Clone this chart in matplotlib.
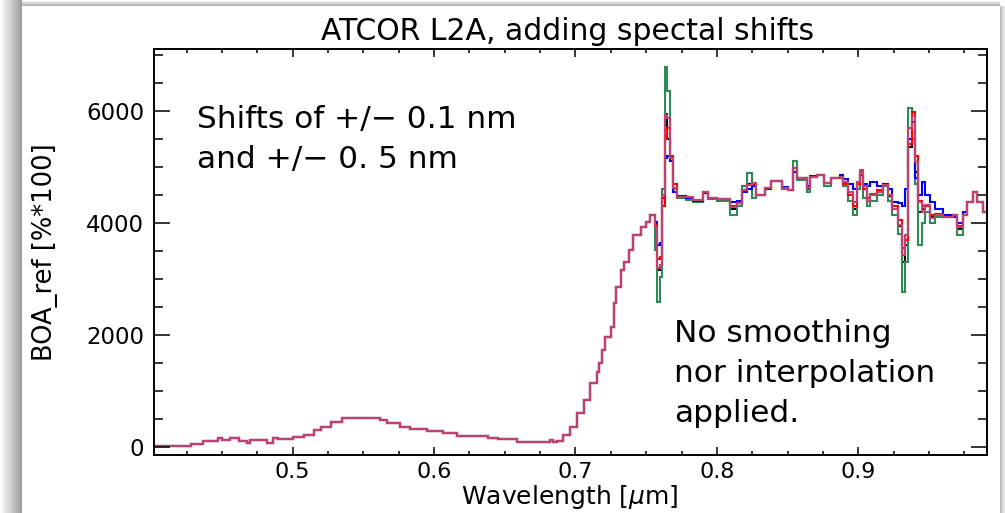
import numpy as np
import matplotlib
matplotlib.use("Agg")
import matplotlib.pyplot as plt
from matplotlib.ticker import MultipleLocator

W, H = 1005, 513

# band edges (nm) below the O2 band: all shifted spectra coincide here
WL_LOW = [400, 428, 437, 447, 450, 456, 462, 468, 470, 482,
          486, 490, 500, 508, 515, 520, 527, 535, 562, 567,
          576, 583, 595, 606, 616, 638, 645, 659, 682, 684,
          687, 691, 696, 701, 706, 710, 715, 717, 719, 721,
          725, 727, 729, 732, 734, 738, 741, 746, 750, 753]
REFL_LOW = [32, 57, 116, 175, 134, 164, 116, 75, 134, 75,
            164, 146, 182, 223, 312, 370, 460, 531, 490, 431,
            370, 330, 300, 264, 205, 164, 146, 103, 134, 93,
            120, 223, 370, 609, 846, 1143, 1350, 1500, 1736, 1973,
            2151, 2568, 2864, 3161, 3309, 3517, 3785, 3932, 4021]

# band edges (nm) from the O2 band to the end of the range
WL_HIGH = [753, 756, 758, 760, 761, 763, 765, 767, 769, 772,
           778, 783, 790, 794, 800, 809, 814, 818, 821, 825,
           828, 834, 838, 846, 850, 854, 857, 864, 866, 871,
           876, 881, 887, 889, 893, 896, 899, 901, 903, 906,
           908, 913, 917.5, 921, 924, 928, 931, 933, 935, 938,
           940, 942, 945, 947, 951, 954, 960, 967, 970, 974,
           977, 981, 984, 988, 993]

# BOA reflectance [%*100] per spectral shift
REFL_ORIG = [4141, 3900, 3160, 3160, 4450, 5950, 5500, 5150, 4620, 4467,
             4460, 4400, 4545, 4438, 4426, 4250, 4350, 4590, 4700, 4705,
             4497, 4622, 4746, 4622, 4586, 4972, 4794, 4600, 4823, 4853,
             4705, 4794, 4823, 4720, 4500, 4250, 4700, 4900, 4600, 4400,
             4500, 4560, 4675, 4480, 4250, 3950, 3300, 3600, 5350, 5500,
             4900, 4200, 4250, 4320, 4100, 4141, 4112, 4141, 3900, 4141,
             4378, 4556, 4378, 4200]
REFL_P05 = [4141, 3520, 2600, 3040, 4600, 6780, 6350, 5150, 4600, 4450,
            4410, 4380, 4545, 4420, 4400, 4141, 4300, 4650, 4889, 4450,
            4497, 4622, 4746, 4600, 4586, 5102, 4760, 4560, 4823, 4853,
            4650, 4794, 4800, 4650, 4400, 4141, 4600, 4850, 4450, 4300,
            4400, 4500, 4650, 4400, 4150, 3800, 2775, 3300, 6041, 5500,
            4700, 3607, 4000, 4200, 4000, 4100, 4141, 4141, 3785, 4141,
            4378, 4556, 4378, 4200]
REFL_M05 = [4141, 4020, 3600, 3650, 4450, 5150, 5200, 5100, 4560, 4480,
            4440, 4400, 4530, 4450, 4426, 4380, 4400, 4560, 4600, 4650,
            4500, 4600, 4746, 4640, 4586, 4900, 4800, 4650, 4840, 4853,
            4720, 4800, 4850, 4780, 4700, 4600, 4700, 4850, 4700, 4650,
            4734, 4650, 4700, 4600, 4378, 4350, 4300, 4600, 5500, 5800,
            4800, 4500, 4734, 4500, 4380, 4250, 4150, 4100, 4000, 4200,
            4378, 4556, 4378, 4200]
REFL_P01 = [4141, 3960, 3350, 3400, 4300, 5500, 5700, 5200, 4700, 4467,
            4470, 4408, 4545, 4438, 4426, 4300, 4360, 4586, 4675, 4700,
            4497, 4622, 4746, 4622, 4586, 4972, 4794, 4622, 4823, 4853,
            4705, 4794, 4823, 4700, 4500, 4300, 4700, 4900, 4600, 4450,
            4520, 4580, 4675, 4500, 4300, 4050, 3550, 3700, 5400, 5981,
            5200, 4400, 4300, 4300, 4150, 4160, 4112, 4141, 3950, 4141,
            4378, 4556, 4378, 4200]
REFL_M01 = [4141, 3930, 3200, 3250, 4500, 5920, 5870, 5150, 4620, 4467,
            4470, 4408, 4545, 4438, 4426, 4289, 4360, 4586, 4675, 4705,
            4497, 4622, 4746, 4622, 4586, 4972, 4794, 4622, 4823, 4853,
            4705, 4794, 4823, 4734, 4556, 4378, 4734, 4942, 4650, 4400,
            4497, 4556, 4675, 4497, 4242, 3963, 3428, 3785, 5685, 5900,
            5090, 4378, 4200, 4318, 4082, 4141, 4112, 4141, 3932, 4141,
            4378, 4556, 4378, 4200]

SERIES = [
    (REFL_ORIG, "#000000"),
    (REFL_P05, "#2e8b57"),
    (REFL_M05, "#0000ff"),
    (REFL_P01, "#ff0000"),
    (REFL_M01, "#c04070"),
]

edges = np.array(WL_LOW[:-1] + WL_HIGH) / 1000.0

fig = plt.figure(figsize=(W / 100, H / 100), dpi=100)

# window frame with a soft drop shadow
bg = np.ones((H, W))
bg[:, :22] = np.linspace(1.0, 0.62, 22)[None, :]
top = np.ones((H, W))
top[:6, 15:1000] = np.linspace(1.0, 0.7, 6)[:, None]
bg = np.minimum(bg, top)
bg[6:, 1000:] = np.linspace(0.74, 0.92, W - 1000)[None, :]
bg_ax = fig.add_axes([0, 0, 1, 1], zorder=-10)
bg_ax.imshow(np.dstack([bg] * 3), aspect="auto", interpolation="nearest")
bg_ax.axis("off")

ax = fig.add_axes([154 / W, 1 - 455 / H, (987 - 154) / W, (455 - 49) / H])
ax.set_facecolor("none")
for vals, col in SERIES:
    ax.stairs(np.concatenate([REFL_LOW, vals]), edges, color=col, lw=1.5,
              baseline=None)

ax.set_xlim(0.402, 0.991)
ax.set_ylim(-135, 7100)
ax.xaxis.set_major_locator(MultipleLocator(0.1))
ax.xaxis.set_minor_locator(MultipleLocator(0.025))
ax.yaxis.set_major_locator(MultipleLocator(2000))
ax.yaxis.set_minor_locator(MultipleLocator(500))
ax.xaxis.set_major_formatter(lambda v, p: f"{v:.1f}")
ax.yaxis.set_major_formatter(lambda v, p: f"{v:.0f}")
for s in ax.spines.values():
    s.set_linewidth(1.4)
ax.tick_params(axis="x", which="major", direction="in", length=6, width=1.1,
               top=True, labelsize=16, pad=5)
ax.tick_params(axis="x", which="minor", direction="in", length=3.2, width=1.1,
               top=True)
ax.tick_params(axis="y", which="major", direction="in", length=11.5, width=1.1,
               right=True, labelsize=16.5, pad=7)
ax.tick_params(axis="y", which="minor", direction="in", length=6.5, width=1.1,
               right=True)

fig.text(568 / W, 1 - 40 / H, "ATCOR L2A, adding spectal shifts",
         ha="center", va="baseline", fontsize=21.5)
fig.text(197 / W, 1 - 128 / H, "Shifts of +/\u2212 0.1 nm",
         ha="left", va="baseline", fontsize=22.5)
fig.text(197 / W, 1 - 168 / H, "and +/\u2212 0. 5 nm",
         ha="left", va="baseline", fontsize=22.5)
for i, line in enumerate(["No smoothing", "nor interpolation", "applied."]):
    fig.text(674 / W, 1 - (342 + 40 * i) / H, line,
             ha="left", va="baseline", fontsize=22.5)
fig.text(45 / W, 1 - 252 / H, "BOA_ref [%*100]", rotation=90,
         ha="center", va="center", fontsize=18.5)
fig.text(570 / W, 1 - 504 / H, "Wavelength [$\\mu$m]",
         ha="center", va="baseline", fontsize=18)

fig.savefig("out.png", dpi=100)
